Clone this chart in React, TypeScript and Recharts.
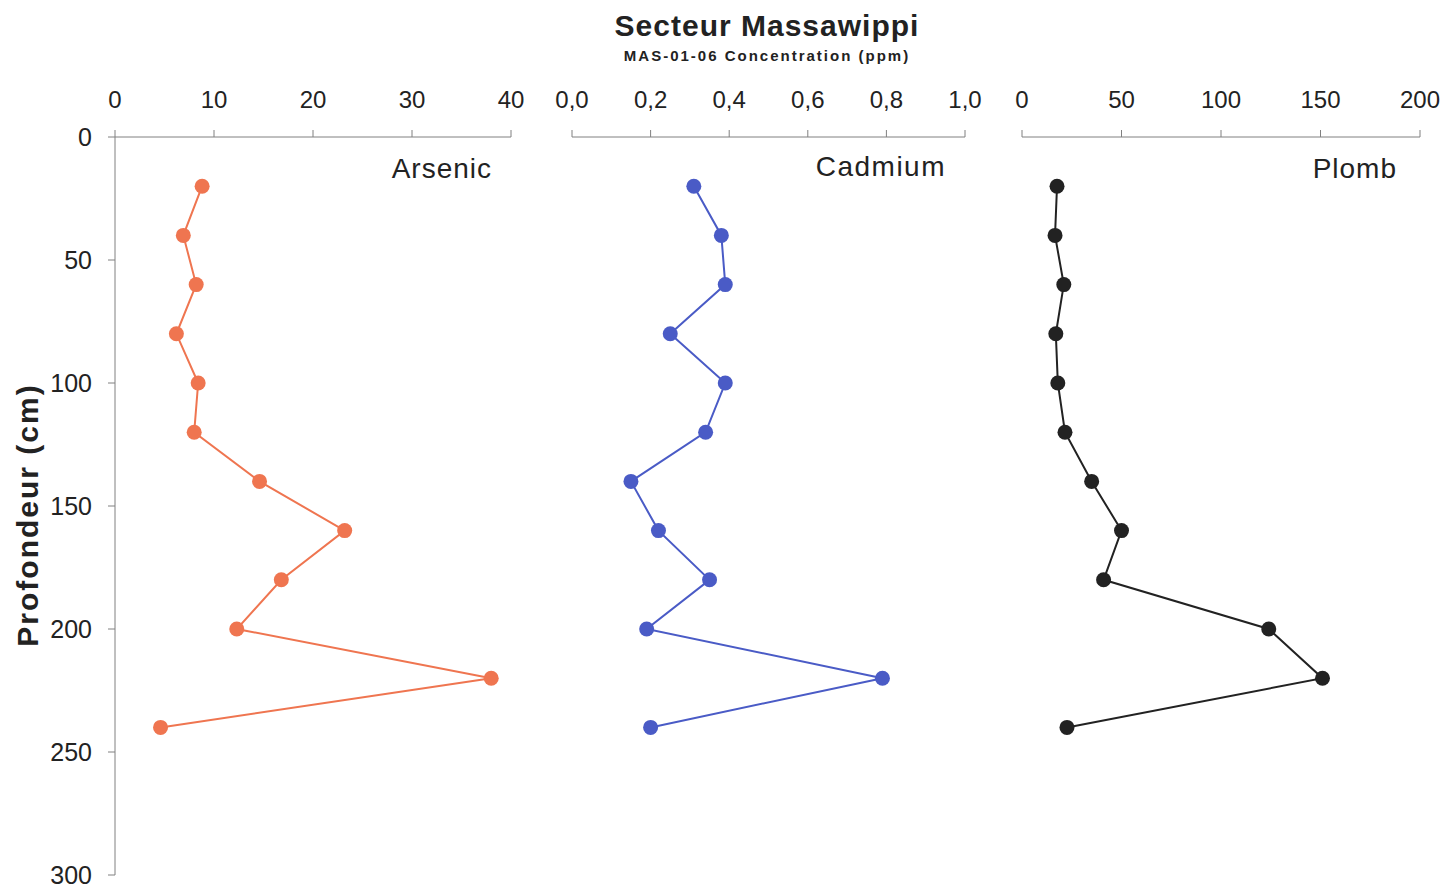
import { Scatter, ScatterChart, XAxis, YAxis } from "recharts";

const depths = [20, 40, 60, 80, 100, 120, 140, 160, 180, 200, 220, 240];
const arsenic = [8.8, 6.9, 8.2, 6.2, 8.4, 8.0, 14.6, 23.2, 16.8, 12.3, 38.0, 4.6];
const cadmium = [0.31, 0.38, 0.39, 0.25, 0.39, 0.34, 0.15, 0.22, 0.35, 0.19, 0.79, 0.2];
const plomb = [17.6, 16.6, 21, 17, 18, 21.6, 35, 50, 41, 124, 151, 22.6];

const depthTicks = [0, 50, 100, 150, 200, 250, 300];
const arsenicTicks = [0, 10, 20, 30, 40];
const cadmiumTicks = [0, 0.2, 0.4, 0.6, 0.8, 1.0];
const plombTicks = [0, 50, 100, 150, 200];

const FONT = "'Liberation Sans', Arial, sans-serif";
const AXIS = "#808080";
const INK = "#222222";

type Panel = {
  name: string;
  values: number[];
  ticks: number[];
  color: string;
  left: number;
  plotWidth: number;
  showDepth: boolean;
  format?: (v: number) => string;
};

const panels: Panel[] = [
  { name: "Arsenic", values: arsenic, ticks: arsenicTicks, color: "#EF7550", left: 15, plotWidth: 396, showDepth: true },
  {
    name: "Cadmium",
    values: cadmium,
    ticks: cadmiumTicks,
    color: "#4A5BC6",
    left: 552,
    plotWidth: 393,
    showDepth: false,
    format: (v) => v.toFixed(1).replace(".", ","),
  },
  { name: "Plomb", values: plomb, ticks: plombTicks, color: "#222222", left: 1002, plotWidth: 398, showDepth: false },
];

const PLOT_H = 738;
const X_AXIS_H = 50;

function ProfilePanel({ panel }: { panel: Panel }) {
  const data = depths.map((d, i) => ({ depth: d, value: panel.values[i] }));
  const yWidth = panel.showDepth ? 100 : 0;
  const marginLeft = panel.showDepth ? 0 : 20;
  const width = yWidth + marginLeft + panel.plotWidth + 20;
  const max = panel.ticks[panel.ticks.length - 1];
  return (
    <div style={{ position: "absolute", left: panel.left, top: 137 - X_AXIS_H }}>
      <ScatterChart
        width={width}
        height={X_AXIS_H + PLOT_H + 15}
        margin={{ top: 0, right: 20, bottom: 15, left: marginLeft }}
      >
        <XAxis
          type="number"
          dataKey="value"
          orientation="top"
          domain={[0, max]}
          ticks={panel.ticks}
          tickFormatter={panel.format}
          height={X_AXIS_H}
          stroke={AXIS}
          tickSize={7}
          tickMargin={22}
          tick={{ fill: INK, fontSize: 24, fontFamily: FONT }}
          allowDataOverflow
        />
        <YAxis
          type="number"
          dataKey="depth"
          domain={[0, 300]}
          ticks={depthTicks}
          reversed
          hide={!panel.showDepth}
          width={yWidth}
          stroke={AXIS}
          tickSize={7}
          tickMargin={16}
          tick={{ fill: INK, fontSize: 25, fontFamily: FONT }}
        />
        <Scatter
          data={data}
          isAnimationActive={false}
          line={{ stroke: panel.color, strokeWidth: 2 }}
          shape={(p: any) => <circle cx={p.cx} cy={p.cy} r={7.5} fill={panel.color} />}
        />
      </ScatterChart>
    </div>
  );
}

export default function App() {
  return (
    <div
      style={{
        position: "absolute",
        left: 0,
        top: 0,
        width: 1445,
        height: 888,
        background: "#fff",
        fontFamily: FONT,
      }}
    >
      {panels.map((p) => (
        <ProfilePanel key={p.name} panel={p} />
      ))}
      <svg
        width={1445}
        height={888}
        style={{ position: "absolute", left: 0, top: 0, pointerEvents: "none" }}
        fontFamily={FONT}
        fill={INK}
      >
        <text x={767} y={36} textAnchor="middle" fontSize={30} fontWeight="bold" letterSpacing={1}>
          Secteur Massawippi
        </text>
        <text x={767} y={61} textAnchor="middle" fontSize={15} fontWeight="bold" letterSpacing={2}>
          MAS-01-06 Concentration (ppm)
        </text>
        <text
          transform="translate(38, 515) rotate(-90)"
          textAnchor="middle"
          fontSize={30}
          fontWeight="bold"
          letterSpacing={2}
        >
          Profondeur (cm)
        </text>
        <text x={492} y={178} textAnchor="end" fontSize={28} letterSpacing={1}>
          Arsenic
        </text>
        <text x={946} y={176} textAnchor="end" fontSize={28} letterSpacing={1.5}>
          Cadmium
        </text>
        <text x={1397} y={178} textAnchor="end" fontSize={28} letterSpacing={1}>
          Plomb
        </text>
      </svg>
    </div>
  );
}
